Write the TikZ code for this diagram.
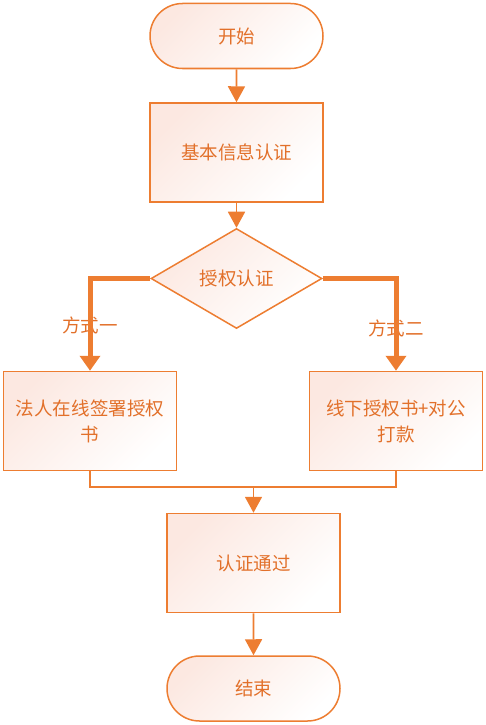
\documentclass[tikz,border=0pt]{standalone}
\usepackage{fontspec}
\newfontfamily\cjk{Noto Sans CJK SC}
\usetikzlibrary{shapes.geometric, shapes.misc, arrows.meta, positioning, calc}
\definecolor{flowline}{HTML}{ED7D31}
\definecolor{flowtext}{HTML}{E2702A}
\definecolor{flowfill}{HTML}{FCE8E1}
\tikzset{
  flowshade/.style={
    top color=flowfill, bottom color=white, shading angle=45
  },
  startstop/.style={
    draw=flowline, line width=1.5pt, flowshade, rounded rectangle,
    minimum width=173pt, minimum height=65pt, inner sep=0pt,
    font=\cjk\fontsize{18.5}{26}\selectfont, text=flowtext
  },
  flowbox/.style={
    draw=flowline, line width=1.5pt, flowshade, rectangle,
    minimum width=173pt, minimum height=99pt, inner sep=0pt,
    align=center, font=\cjk\fontsize{18.5}{26}\selectfont, text=flowtext
  },
  decision/.style={
    draw=flowline, line width=1.5pt, flowshade, diamond,
    minimum width=171pt, minimum height=100pt, inner sep=0pt,
    font=\cjk\fontsize{18.5}{26}\selectfont, text=flowtext
  },
  branchlabel/.style={font=\cjk\fontsize{18.5}{26}\selectfont, text=flowtext},
  flowline/.style={draw=flowline, line width=1.8pt},
  flowarrow/.style={flowline, -{Triangle[width=17pt, length=16pt]}},
  brancharrow/.style={draw=flowline, line width=5pt,
    -{Triangle[width=20pt, length=15pt]}}
}

\begin{document}
\begin{tikzpicture}[x=1pt, y=-1pt]
\useasboundingbox (0,0) rectangle (486,725);

\node[startstop] (start) at (236.5,36) {开始};
\node[flowbox, below=33pt of start] (basic) {基本信息认证};
\node[decision, below=25pt of basic] (auth) {授权认证};
\node[flowbox] (online)  at (90,421)  {法人在线签署授权\\书};
\node[flowbox] (offline) at (396,421) {线下授权书+对公\\打款};
\node[flowbox] (pass) at (253.5,563) {认证通过};
\node[startstop, below=42pt of pass] (stop) {结束};

\node[branchlabel] (way1) at (90,325)  {方式一};
\node[branchlabel] (way2) at (396,328) {方式二};

\coordinate (merge) at ($(pass.north)+(0,-26)$);

\draw[flowarrow] (start) -- (basic);
\draw[flowarrow] (basic) -- (auth);
\draw[brancharrow] (auth.west) -| (online.north);
\draw[brancharrow] (auth.east) -| (offline.north);
\draw[flowline] (online.south) |- (merge) -| (offline.south);
\draw[flowarrow] (merge) -- (pass);
\draw[flowarrow] (pass) -- (stop);
\end{tikzpicture}
\end{document}
